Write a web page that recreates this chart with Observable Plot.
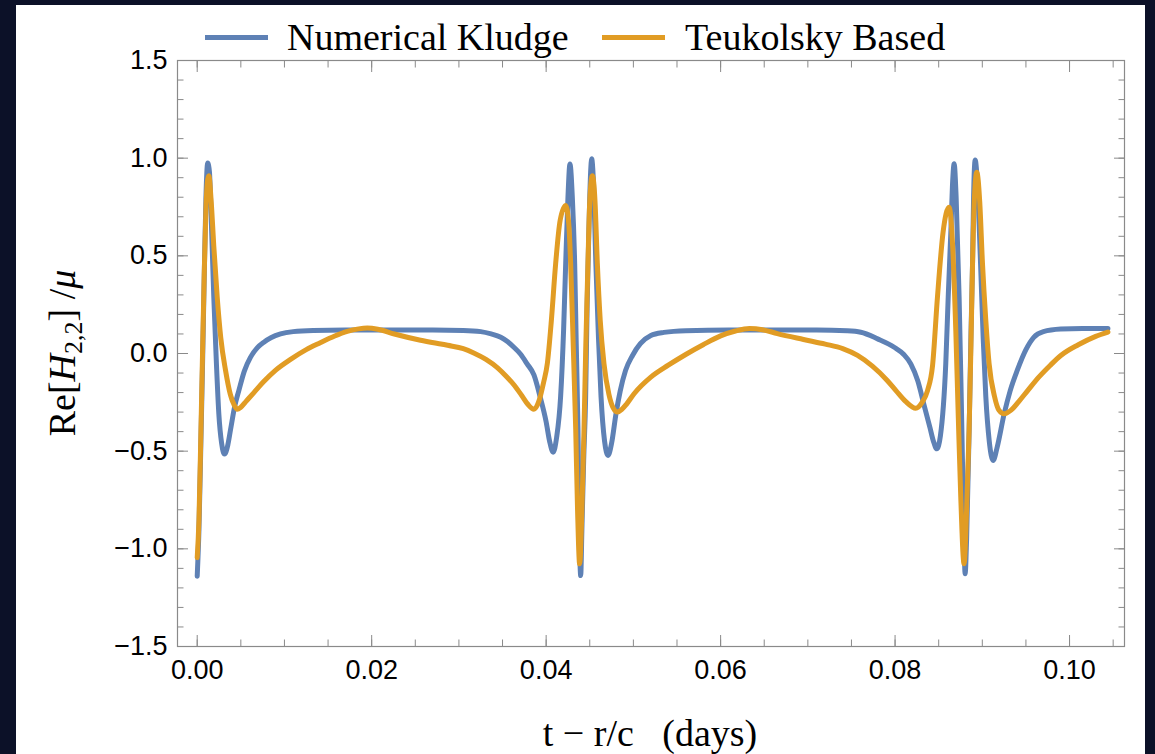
<!DOCTYPE html>
<html><head><meta charset="utf-8">
<script src="https://cdn.jsdelivr.net/npm/d3@7"></script>
<script src="https://cdn.jsdelivr.net/npm/@observablehq/plot@0.6"></script>
<style>
html,body{margin:0;padding:0;background:#0c1128;width:1155px;height:754px;overflow:hidden;}
#panel{position:absolute;left:16px;top:5px;width:1129px;height:749px;background:#fff;overflow:hidden;}
#chart{position:absolute;left:0;top:0;}
.serif{font-family:"Liberation Serif","Times New Roman",serif;font-size:38px;line-height:38px;color:#000;white-space:pre;position:absolute;}
.sw{position:absolute;height:5px;width:63px;}
#ytitle{left:46px;top:348px;transform:translate(-50%,-50%) rotate(-90deg);transform-origin:center;}
#ytitle sub{font-size:26px;vertical-align:-7px;line-height:0;}
#xtitle{left:634px;top:709px;transform:translateX(-50%);}
</style></head><body>
<div id="panel">
  <div id="chart"></div>
  <div class="sw" style="left:189px;top:30px;background:#5e81b5"></div>
  <div class="serif" style="left:271px;top:13px">Numerical Kludge</div>
  <div class="sw" style="left:586px;top:30px;background:#e19c24"></div>
  <div class="serif" style="left:669px;top:13px">Teukolsky Based</div>
  <div class="serif" id="ytitle">Re[<i>H</i><sub>2,2</sub>] /<i>μ</i></div>
  <div class="serif" id="xtitle">t − r/c   (days)</div>
</div>
<script>
// Numerical Kludge (blue)
const blueT = [0.0000,0.0002,0.0004,0.0006,0.0008,0.0010,0.0012,0.0014,0.0016,0.0019,0.0022,0.00248,0.0028,0.00313,0.0035,0.00382,0.0043,0.00477,0.0054,0.0061,0.0069,0.00764,0.0085,0.00955,0.011,0.0133,0.017,0.022,0.027,0.0305,0.0325,0.0337,0.0348,0.0356,0.0363,0.0371,0.0378,0.0386,0.0393,0.0400,0.0404,0.0408,0.0412,0.04166,0.0420,0.04224,0.0425,0.04273,0.0430,0.04327,0.04345,0.04365,0.0438,0.04396,0.0441,0.0443,0.04453,0.0447,0.0449,0.0451,0.04522,0.0454,0.0457,0.0460,0.04629,0.0467,0.0471,0.0475,0.0480,0.0485,0.0491,0.0499,0.0508,0.0520,0.0535,0.0560,0.0610,0.0660,0.0710,0.0745,0.07607,0.0780,0.0799,0.0810,0.0818,0.0826,0.0833,0.0840,0.0844,0.08478,0.0852,0.08581,0.0861,0.0864,0.0866,0.08677,0.0870,0.08734,0.08755,0.08773,0.0879,0.08803,0.0882,0.08849,0.0887,0.08888,0.0890,0.08918,0.0894,0.0898,0.0901,0.0904,0.0908,0.09124,0.0917,0.0925,0.0932,0.0940,0.0950,0.0959,0.0970,0.0990,0.1015,0.1044];
const blueV = [-1.14,-0.90,-0.50,-0.08,0.38,0.80,0.975,0.93,0.70,0.29,-0.05,-0.31,-0.46,-0.515,-0.47,-0.39,-0.27,-0.19,-0.09,-0.02,0.03,0.058,0.082,0.10,0.112,0.118,0.12,0.12,0.12,0.118,0.112,0.10,0.083,0.06,0.032,-0.005,-0.052,-0.11,-0.22,-0.35,-0.45,-0.505,-0.43,-0.22,0.12,0.46,0.80,0.97,0.80,0.46,0.05,-0.39,-0.90,-1.137,-0.90,-0.55,-0.22,0.25,0.63,0.93,0.997,0.90,0.46,0.08,-0.22,-0.45,-0.522,-0.46,-0.31,-0.19,-0.087,-0.01,0.05,0.092,0.108,0.117,0.12,0.12,0.12,0.116,0.109,0.075,0.032,-0.005,-0.053,-0.14,-0.26,-0.38,-0.45,-0.488,-0.42,-0.053,0.30,0.63,0.88,0.971,0.80,0.29,-0.15,-0.565,-0.95,-1.128,-0.95,-0.39,0.10,0.46,0.80,0.99,0.90,0.46,0.08,-0.22,-0.45,-0.548,-0.48,-0.31,-0.19,-0.087,0.02,0.083,0.112,0.125,0.128,0.128];
// Teukolsky Based (orange)
const orangeT = [0.0000,0.0002,0.0004,0.0006,0.0008,0.0010,0.0012,0.00133,0.0016,0.0019,0.00229,0.0027,0.00325,0.0038,0.0042,0.00459,0.0050,0.0056,0.0065,0.0076,0.0090,0.0107,0.0125,0.0141,0.0157,0.0172,0.0185,0.0195,0.0207,0.0226,0.0256,0.0287,0.0305,0.0317,0.0331,0.0344,0.0355,0.0363,0.0372,0.0379,0.0386,0.0392,0.0397,0.04014,0.0406,0.04109,0.0416,0.04224,0.0426,0.04281,0.0431,0.04339,0.0436,0.04384,0.0441,0.04434,0.04455,0.04479,0.0450,0.0453,0.0456,0.04587,0.0462,0.04663,0.0472,0.0477,0.04817,0.0487,0.0492,0.05008,0.0520,0.0540,0.0560,0.0580,0.0600,0.0617,0.0633,0.0648,0.0665,0.0695,0.0720,0.0740,0.0757,0.0774,0.0791,0.0801,0.0812,0.08237,0.0831,0.08372,0.0843,0.08486,0.0855,0.08619,0.0866,0.08696,0.08725,0.08753,0.08791,0.0882,0.08849,0.0887,0.08888,0.0891,0.08937,0.0897,0.09002,0.0904,0.09078,0.0914,0.0919,0.0925,0.0933,0.0942,0.0952,0.0965,0.0978,0.0990,0.1010,0.1030,0.1044];
const orangeV = [-1.045,-0.85,-0.45,-0.02,0.40,0.74,0.89,0.91,0.78,0.55,0.29,0.08,-0.087,-0.21,-0.26,-0.285,-0.275,-0.245,-0.20,-0.145,-0.085,-0.03,0.02,0.055,0.088,0.113,0.126,0.13,0.124,0.10,0.068,0.042,0.025,0.003,-0.03,-0.072,-0.12,-0.16,-0.215,-0.26,-0.285,-0.24,-0.15,-0.05,0.17,0.46,0.68,0.758,0.66,0.46,0.05,-0.39,-0.80,-1.077,-0.80,-0.39,0.05,0.46,0.78,0.91,0.78,0.46,0.17,-0.053,-0.21,-0.28,-0.30,-0.285,-0.26,-0.206,-0.121,-0.06,-0.005,0.045,0.09,0.115,0.128,0.122,0.102,0.072,0.048,0.025,-0.01,-0.065,-0.138,-0.19,-0.245,-0.28,-0.25,-0.19,-0.06,0.29,0.62,0.749,0.55,0.118,-0.33,-0.736,-1.077,-0.80,-0.39,0.05,0.46,0.80,0.928,0.78,0.46,0.17,-0.053,-0.22,-0.29,-0.309,-0.29,-0.245,-0.19,-0.12,-0.06,-0.01,0.045,0.088,0.11];
// tick values
const yMajor = [-1.5,-1.0,-0.5,0.0,0.5,1.0,1.5];
const yMinor = d3.range(-15,16).map(i=>i/10);
const xMajor = [0.00,0.02,0.04,0.06,0.08,0.10];
const xMinor = d3.range(0,22).map(i=>i*0.005);

const blue = blueT.map((t,i)=>({t, v: blueV[i]}));
const orange = orangeT.map((t,i)=>({t, v: orangeV[i]}));
const minus = s => s.replace("-", "\u2212");
const gray = "#8a8a8a";
const empty = () => "";

const chart = Plot.plot({
  width: 1129, height: 700,
  marginLeft: 161, marginTop: 55, marginRight: 21, marginBottom: 59,
  style: {fontFamily: "'Liberation Sans', Arial, sans-serif", fontSize: "27px", background: "transparent", color: "#000"},
  x: {domain: [-0.00226, 0.1063], label: null},
  y: {domain: [-1.5, 1.5], label: null},
  marks: [
    Plot.line(blue, {x: "t", y: "v", stroke: "#5e81b5", strokeWidth: 5, curve: "monotone-x"}),
    Plot.line(orange, {x: "t", y: "v", stroke: "#e19c24", strokeWidth: 5, curve: "monotone-x"}),
    Plot.frame({stroke: gray, strokeWidth: 1.2}),
    // labels
    Plot.axisY(yMajor, {anchor: "left", tickSize: 0, tickPadding: 10, tickFormat: d => minus(d.toFixed(1)), label: null, fill: "#000"}),
    Plot.axisX(xMajor, {anchor: "bottom", tickSize: 0, tickPadding: 13, tickFormat: d => d.toFixed(2), label: null, fill: "#000"}),
    // inward ticks
    Plot.axisY(yMajor, {anchor: "left", tickSize: -11, tickFormat: empty, label: null, stroke: gray}),
    Plot.axisY(yMinor, {anchor: "left", tickSize: -6.5, tickFormat: empty, label: null, stroke: gray}),
    Plot.axisY(yMajor, {anchor: "right", tickSize: -11, tickFormat: empty, label: null, stroke: gray}),
    Plot.axisY(yMinor, {anchor: "right", tickSize: -6.5, tickFormat: empty, label: null, stroke: gray}),
    Plot.axisX(xMajor, {anchor: "bottom", tickSize: -11, tickFormat: empty, label: null, stroke: gray}),
    Plot.axisX(xMinor, {anchor: "bottom", tickSize: -6.5, tickFormat: empty, label: null, stroke: gray}),
    Plot.axisX(xMajor, {anchor: "top", tickSize: -11, tickFormat: empty, label: null, stroke: gray}),
    Plot.axisX(xMinor, {anchor: "top", tickSize: -6.5, tickFormat: empty, label: null, stroke: gray})
  ]
});
document.getElementById("chart").appendChild(chart);
</script>
</body></html>
